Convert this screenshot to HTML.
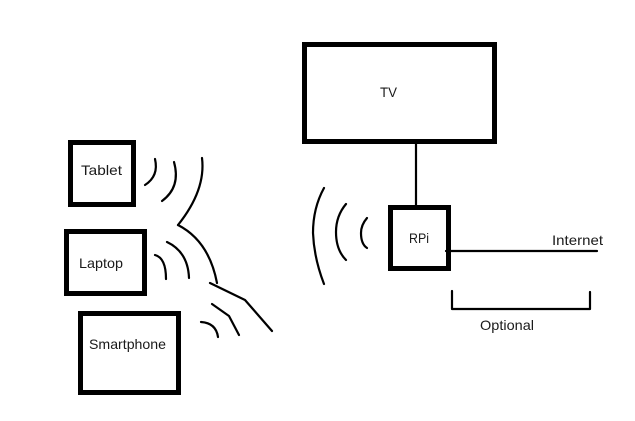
<!DOCTYPE html>
<html>
<head>
<meta charset="utf-8">
<style>
html,body{margin:0;padding:0;background:#fff;width:635px;height:421px;overflow:hidden}
svg{display:block}
text{font-family:"Liberation Sans",sans-serif;font-size:14px;fill:#1a1a1a}
.b{fill:none;stroke:#000;stroke-width:5}
.l{fill:none;stroke:#000;stroke-width:2.2;stroke-linecap:round;stroke-linejoin:round}
</style>
</head>
<body>
<svg width="635" height="421" viewBox="0 0 635 421" xmlns="http://www.w3.org/2000/svg">
<rect class="b" x="304.500" y="44.500" width="190" height="97"/>
<rect class="b" x="390.500" y="207.500" width="58" height="61"/>
<rect class="b" x="70.500" y="142.500" width="63" height="62"/>
<rect class="b" x="66.500" y="231.500" width="78" height="62"/>
<rect class="b" x="80.500" y="313.500" width="98" height="79"/>
<path class="l" d="M416 144V205"/>
<path class="l" d="M446 251H597"/>
<path class="l" d="M452 291V309H590V292"/>
<path class="l" d="M324 188Q313 208 313 233Q314 258 324 284"/>
<path class="l" d="M346 204Q336 216 336 232Q336 250 346 260"/>
<path class="l" d="M367 218Q361 225 361 233Q361 244 367 248"/>
<path class="l" d="M155 159Q159 176 145 185"/>
<path class="l" d="M174 162Q181 187 162 201"/>
<path class="l" d="M202 158Q206 190 178 225"/>
<path class="l" d="M178 225Q209 241 217 283"/>
<path class="l" d="M155 255Q166 258 166 279"/>
<path class="l" d="M167 242Q188 252 189 278"/>
<path class="l" d="M210 283L245 300L272 331"/>
<path class="l" d="M212 304L229 316L239 335"/>
<path class="l" d="M201 322Q216 323 218 337"/>
<text x="81" y="175" textLength="41" lengthAdjust="spacingAndGlyphs">Tablet</text>
<text x="79" y="268" textLength="44" lengthAdjust="spacingAndGlyphs">Laptop</text>
<text x="89" y="349" textLength="77" lengthAdjust="spacingAndGlyphs">Smartphone</text>
<text x="380" y="97" textLength="17" lengthAdjust="spacingAndGlyphs">TV</text>
<text x="409" y="243" textLength="20" lengthAdjust="spacingAndGlyphs">RPi</text>
<text x="552" y="245" textLength="51" lengthAdjust="spacingAndGlyphs">Internet</text>
<text x="480" y="330" textLength="54" lengthAdjust="spacingAndGlyphs">Optional</text>
</svg>
</body>
</html>
